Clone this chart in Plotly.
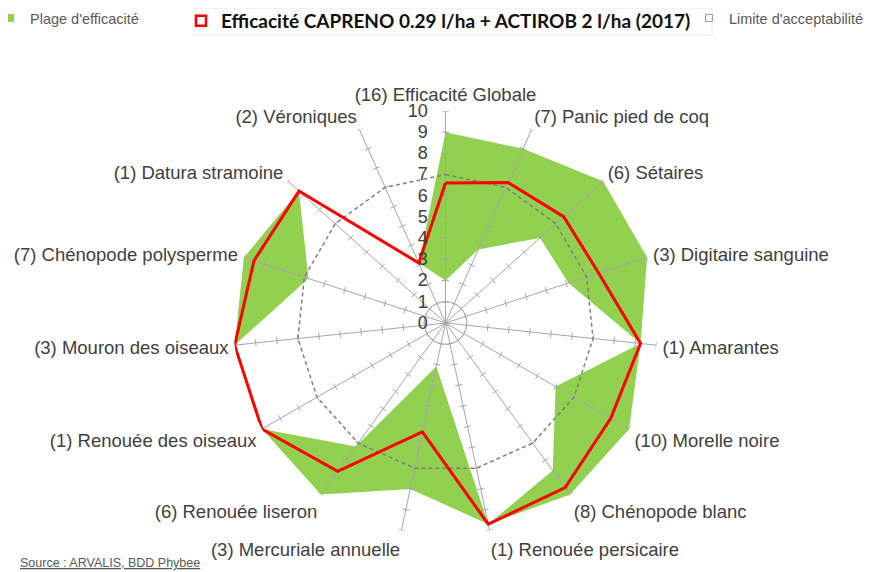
import math
import plotly.graph_objects as go

# ---------------- data ----------------
categories = [
    "(16) Efficacité Globale", "(7) Panic pied de coq", "(6) Sétaires",
    "(3) Digitaire sanguine", "(1) Amarantes", "(10) Morelle noire",
    "(8) Chénopode blanc", "(1) Renouée persicaire", "(3) Mercuriale annuelle",
    "(6) Renouée liseron", "(1) Renouée des oiseaux", "(3) Mouron des oiseaux",
    "(7) Chénopode polysperme", "(1) Datura stramoine", "(2) Véroniques",
]
range_max = [9.0, 9.0, 10.0, 10.0, 9.25, 10.0, 10.0, 9.7, 8.0, 10.0, 10.0, 10.0, 10.0, 9.3, 3.1]
range_min = [2.0, 3.8, 6.0, 6.1, 9.25, 6.0, 8.6, 9.7, 2.1, 7.2, 10.0, 10.0, 6.8, 9.3, 3.1]
capreno = [6.6, 7.25, 7.5, 7.6, 9.25, 9.0, 9.6, 9.7, 5.25, 8.65, 10.0, 10.0, 9.5, 9.3, 3.1]
limite = [7, 7, 7, 7, 7, 7, 7, 7, 7, 7, 7, 7, 7, 7, 7]
radial_ticks = [0, 1, 2, 3, 4, 5, 6, 7, 8, 9, 10]

name_range = "Plage d'efficacité"
name_product = "Efficacité CAPRENO 0.29 l/ha + ACTIROB 2 l/ha (2017)"
name_limit = "Limite d'acceptabilité"
source_text = "Source : ARVALIS, BDD Phybee"

# ---------------- styles ----------------
GREEN = "#92D050"
RED = "#FF0000"
GRID = "#A6A6A6"
DASH = "#7F7F7F"
TXT = "#404040"
FONT = "Liberation Sans, Arial, sans-serif"

n = len(categories)
step = 360.0 / n
angles = [i * step for i in range(n)]
rmax = radial_ticks[-1]


def closed(vals):
    return list(vals) + [vals[0]]


theta_c = closed(angles)

fig = go.Figure()

# green band: max polygon filled green, min polygon filled white
fig.add_trace(go.Scatterpolar(r=closed(range_max), theta=theta_c, mode="lines", fill="toself",
                              fillcolor=GREEN, line=dict(width=0, color=GREEN),
                              showlegend=False, hoverinfo="skip"))
fig.add_trace(go.Scatterpolar(r=closed(range_min), theta=theta_c, mode="lines", fill="toself",
                              fillcolor="white", line=dict(width=0, color="white"),
                              showlegend=False, hoverinfo="skip"))

# spokes
sr, st = [], []
for a in angles:
    sr += [0, rmax, None]
    st += [a, a, None]
fig.add_trace(go.Scatterpolar(r=sr, theta=st, mode="lines", line=dict(color=GRID, width=1),
                              showlegend=False, hoverinfo="skip"))

# tick marks crossing every spoke
h = 0.17
tr, tt = [], []
for a in angles:
    for k in radial_ticks[1:]:
        rr = math.hypot(k, h)
        da = math.degrees(math.atan2(h, k))
        tr += [rr, rr, None]
        tt += [a - da, a + da, None]
fig.add_trace(go.Scatterpolar(r=tr, theta=tt, mode="lines", line=dict(color=GRID, width=1),
                              showlegend=False, hoverinfo="skip"))

# small inner circle at first tick
circ_t = [i * 5 for i in range(73)]
fig.add_trace(go.Scatterpolar(r=[radial_ticks[1]] * len(circ_t), theta=circ_t, mode="lines",
                              line=dict(color=GRID, width=1), showlegend=False, hoverinfo="skip"))

# limit line
fig.add_trace(go.Scatterpolar(r=closed(limite), theta=theta_c, mode="lines",
                              line=dict(color=DASH, width=1.5, dash="4px,3px"),
                              showlegend=False, hoverinfo="skip"))

# product line
fig.add_trace(go.Scatterpolar(r=closed(capreno), theta=theta_c, mode="lines",
                              line=dict(color=RED, width=3), showlegend=False,
                              hovertemplate="%{r}<extra></extra>"))

# legend entries
fig.add_trace(go.Scatterpolar(r=[None], theta=[None], mode="markers", name=name_range,
                              marker=dict(symbol="square", size=8, color=GREEN),
                              legend="legend", showlegend=True))
fig.add_trace(go.Scatterpolar(r=[None], theta=[None], mode="markers", name="<b>" + name_product + "</b>",
                              marker=dict(symbol="square-open", size=10, color=RED,
                                          line=dict(width=2.5, color=RED)),
                              legend="legend2", showlegend=True))
fig.add_trace(go.Scatterpolar(r=[None], theta=[None], mode="markers", name=name_limit,
                              marker=dict(symbol="square-open", size=7, color="#9a9a9a",
                                          line=dict(width=1, color="#9a9a9a")),
                              legend="legend3", showlegend=True))

# the page body has an 8px margin: figure coordinates = window coordinates - 8
OFF = 8
W, H = 875 - OFF, 572 - OFF
cx, cy, R = 445.5 - OFF, 323.0 - OFF, 212.0
ly = 1 - (18 - OFF) / H

fig.update_layout(
    width=W, height=H,
    margin=dict(l=0, r=0, t=0, b=0, autoexpand=False),
    paper_bgcolor="white",
    plot_bgcolor="white",
    font=dict(family=FONT, color=TXT),
    polar=dict(
        domain=dict(x=[(cx - R) / W, (cx + R) / W], y=[(H - cy - R) / H, (H - cy + R) / H]),
        bgcolor="rgba(0,0,0,0)",
        angularaxis=dict(
            thetaunit="degrees", direction="clockwise", rotation=90,
            tickmode="array", tickvals=angles, ticktext=categories,
            showgrid=False, showline=False, ticks="outside", ticklen=2,
            tickcolor="rgba(0,0,0,0)",
            tickfont=dict(family=FONT, size=18.5, color=TXT),
        ),
        radialaxis=dict(
            range=[0, rmax], angle=90, tickangle=90, side="counterclockwise",
            tickmode="array", tickvals=radial_ticks,
            showgrid=False, showline=False, ticks="outside", ticklen=11,
            tickcolor="rgba(0,0,0,0)",
            tickfont=dict(family=FONT, size=18, color=TXT),
        ),
    ),
    legend=dict(x=(32 - 42 - OFF) / W, y=ly, xanchor="left", yanchor="middle",
                font=dict(family=FONT, size=14.5, color="#595959"), bgcolor="rgba(0,0,0,0)"),
    legend2=dict(x=(227 - 46 - OFF) / W, y=1.0 + 6.0 / H, xanchor="left", yanchor="top",
                 font=dict(family="Lato, sans-serif", size=19, color="#111111"),
                 bgcolor="rgba(0,0,0,0)"),
    legend3=dict(x=(731 - 42 - OFF) / W, y=ly, xanchor="left", yanchor="middle",
                 font=dict(family=FONT, size=14.5, color="#595959"), bgcolor="rgba(0,0,0,0)"),
    shapes=[dict(type="rect", xref="paper", yref="paper",
                 x0=(195 - OFF) / W, x1=(712 - OFF) / W, y0=1 - (35 - OFF) / H, y1=1.0,
                 line=dict(color="#E6E6E6", width=1), fillcolor="rgba(0,0,0,0)", layer="below")],
    annotations=[dict(text="<u>" + source_text + "</u>", x=(18 - OFF) / W, y=1 - (563 - OFF) / H,
                      xref="paper", yref="paper", xanchor="left", yanchor="middle",
                      showarrow=False, font=dict(family=FONT, size=12.5, color="#595959"))],
)

fig.write_html("out.html")
